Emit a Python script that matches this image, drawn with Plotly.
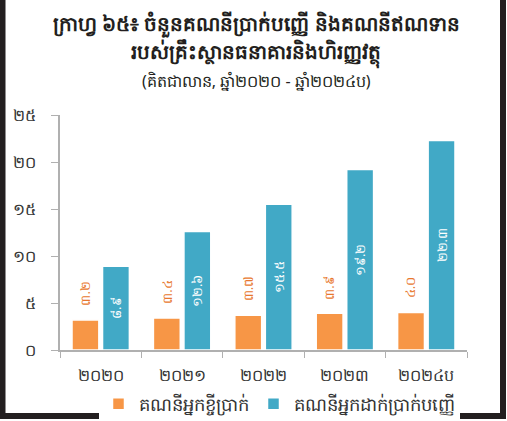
import plotly.graph_objects as go

years = ["២០២០", "២០២១", "២០២២", "២០២៣", "២០២៤ប"]
loan_accounts = [3.2, 3.4, 3.7, 3.9, 4.0]
deposit_accounts = [8.9, 12.6, 15.5, 19.2, 22.3]
loan_name = "គណនីអ្នកខ្ចីប្រាក់"
deposit_name = "គណនីអ្នកដាក់ប្រាក់បញ្ញើ"
y_ticks = [0, 5, 10, 15, 20, 25]

KH_DIGITS = str.maketrans("0123456789", "០១២៣៤៥៦៧៨៩")


def kh(v):
    return str(v).translate(KH_DIGITS)


FONT = "Noto Sans, DejaVu Sans, sans-serif"
ORANGE = "#F79646"
BLUE = "#41A9C6"

# plot area in pixels (507x421 canvas)
L, R, T, B = 60, 40, 115, 71
PW, PH = 507 - L - R, 421 - T - B


def px_x(x):
    return (x - L) / PW


def px_y(y):
    return (421 - B - y) / PH


fig = go.Figure()

fig.add_trace(go.Bar(
    x=years,
    y=loan_accounts,
    name=loan_name,
    marker=dict(color=ORANGE, line=dict(color="white", width=1.5)),
))

fig.add_trace(go.Bar(
    x=years,
    y=deposit_accounts,
    name=deposit_name,
    marker=dict(color=BLUE, line=dict(color="white", width=1.5)),
    text=[kh(v) for v in deposit_accounts],
    textposition="inside",
    insidetextanchor="middle",
    textangle=-90,
    textfont=dict(color="white", size=13, family=FONT),
))

# orange value labels floating above the loan bars
for yr, v in zip(years, loan_accounts):
    fig.add_annotation(
        x=yr, y=v, xshift=-16, yshift=12,
        text=kh(v), textangle=-90, showarrow=False,
        xanchor="center", yanchor="bottom",
        font=dict(color="#E8772E", size=13, family=FONT),
    )

# titles
titles = [
    ("<b>ក្រាហ្វ ៦៥៖ ចំនួនគណនីប្រាក់បញ្ញើ និងគណនីឥណទាន</b>", 24, 20),
    ("<b>របស់គ្រឹះស្ថានធនាគារនិងហិរញ្ញវត្ថុ</b>", 53, 20),
    ("(គិតជាលាន, ឆ្នាំ២០២០ - ឆ្នាំ២០២៤ប)", 81, 16),
]
for txt, ypix, size in titles:
    fig.add_annotation(
        text=txt, xref="paper", yref="paper",
        x=px_x(256), y=px_y(ypix), xanchor="center", yanchor="middle",
        showarrow=False, font=dict(size=size, color="#231F20", family=FONT),
    )

# dark frame on left, right and bottom
fig.add_shape(
    type="path", xref="paper", yref="paper",
    path=f"M {px_x(2.5)} {px_y(-5)} L {px_x(2.5)} {px_y(416)} "
         f"L {px_x(503)} {px_y(416)} L {px_x(503)} {px_y(-5)}",
    line=dict(color="#231F20", width=6),
)

fig.update_layout(
    width=507,
    height=421,
    margin=dict(l=L, r=R, t=T, b=B, autoexpand=False),
    paper_bgcolor="white",
    plot_bgcolor="white",
    barmode="group",
    bargap=0.25,
    bargroupgap=0.12,
    font=dict(family=FONT, color="#333333"),
    showlegend=True,
    legend=dict(
        orientation="h",
        xref="container", yref="container",
        x=279 / 507, y=(421 - 404) / 421,
        xanchor="center", yanchor="middle",
        font=dict(size=18, color="#333333"),
        itemwidth=30,
        traceorder="normal",
    ),
    xaxis=dict(
        showline=True, linecolor="#B0B0B0", linewidth=1.5,
        ticks="outside", tickson="boundaries", ticklen=6, tickcolor="#B0B0B0",
        tickfont=dict(size=16, color="#333333"),
        ticklabelstandoff=10,
        showgrid=False, automargin=False,
    ),
    yaxis=dict(
        range=[0, 25],
        tickvals=y_ticks,
        ticktext=[kh(v) for v in y_ticks],
        showline=True, linecolor="#B0B0B0", linewidth=1.5,
        ticks="outside", ticklen=7, tickcolor="#B0B0B0",
        tickfont=dict(size=16, color="#333333"),
        ticklabelstandoff=12,
        showgrid=False, zeroline=False, automargin=False,
    ),
)

fig.write_html(
    "out.html",
    config={"displayModeBar": False},
    post_script="document.body.style.margin='0';document.body.style.overflow='hidden';",
)
